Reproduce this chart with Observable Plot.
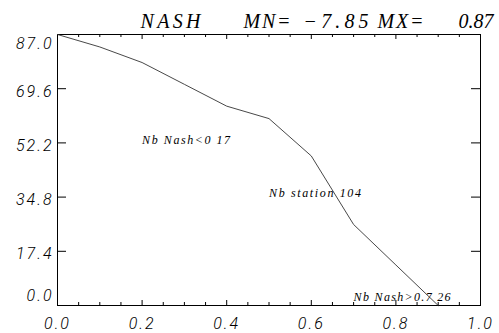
<!DOCTYPE html>
<html><head><meta charset="utf-8">
<script src="https://cdn.jsdelivr.net/npm/d3@7"></script>
<script src="https://cdn.jsdelivr.net/npm/@observablehq/plot@0.6"></script>
<style>
body{margin:0;background:#fff}
svg{display:block}
</style>
</head><body><div id="chart"></div>
<script>
// Data
const nashThresholds = [0.0, 0.1, 0.2, 0.3, 0.4, 0.5, 0.6, 0.7, 0.8, 0.9];
const stationCounts = [87, 83, 78, 71, 64, 60, 48, 26, 13, 0];
const xTickLabels = [0.0, 0.2, 0.4, 0.6, 0.8, 1.0];
const xMinorTicks = [0.05, 0.1, 0.15, 0.25, 0.3, 0.35, 0.45, 0.5, 0.55, 0.65, 0.7, 0.75, 0.85, 0.9, 0.95];
const xMajorTicks = [0.2, 0.4, 0.6, 0.8];
const yTickValues = [0.0, 17.4, 34.8, 52.2, 69.6, 87.0];
const titleParts = ["NASH", "MN=", "\u22127.85", "MX=", "0.87"];
const noteTexts = ["Nb Nash<0 17", "Nb station 104", "Nb Nash>0.7 26"];
const noteX = [0.2, 0.5, 0.7];
const noteY = [51.8, 34.8, 1.6];

const data = nashThresholds.map((x, i) => ({x, y: stationCounts[i]}));
const notes = noteTexts.map((t, i) => ({t, x: noteX[i], y: noteY[i]}));

const mL = 57, mR = 19, mT = 34, mB = 28, W = 499, H = 333;
const fw = W - mL - mR, fh = H - mT - mB;
const fmt = d3.format(".1f");
const sans = "Roboto, Liberation Sans";
const serif = "Liberation Serif";
const titleOffsets = [140, 243, 303, 377, 458];
const titleWidths = [60, 47, 65, 46, 35];
const noteWidths = [88, 92, 97];

const lab = {fontFamily: sans, fontStyle: "italic", fontWeight: 300, fontSize: 16, fill: "black"};
const marks = [
  Plot.frame({stroke: "black", strokeWidth: 1}),
  Plot.tickY(yTickValues, {y: d => d, insetRight: fw - 9, stroke: "black"}),
  Plot.tickY(yTickValues, {y: d => d, insetLeft: fw - 9, stroke: "black"}),
  Plot.tickX(xMinorTicks, {x: d => d, insetTop: fh - 3, stroke: "black"}),
  Plot.tickX(xMinorTicks, {x: d => d, insetBottom: fh - 3, stroke: "black"}),
  Plot.tickX(xMajorTicks, {x: d => d, insetTop: fh - 5, stroke: "black"}),
  Plot.tickX(xMajorTicks, {x: d => d, insetBottom: fh - 5, stroke: "black"}),
  Plot.line(data, {x: "x", y: "y", stroke: "#333", strokeWidth: 0.9}),
  Plot.text(yTickValues.filter(d => d > 0 && d < 87), {y: d => d, text: d => fmt(d), frameAnchor: "left", textAnchor: "end", dx: -4, dy: 3, ...lab}),
  Plot.text(yTickValues.filter(d => d === 87), {y: d => d, text: d => fmt(d), frameAnchor: "left", textAnchor: "end", dx: -4, dy: 9, ...lab}),
  Plot.text(yTickValues.filter(d => d === 0), {y: d => d, text: d => fmt(d), frameAnchor: "left", textAnchor: "end", dx: -4, dy: -10, ...lab}),
  Plot.text(xTickLabels, {x: d => d, text: d => fmt(d), frameAnchor: "bottom", dy: 18, lineAnchor: "middle", ...lab}),
  Plot.text(notes, {x: "x", y: "y", text: "t", textAnchor: "start", lineAnchor: "bottom", fontFamily: serif, fontStyle: "italic", fontSize: 12, fill: "black"}),
  ...titleParts.map((t, i) => Plot.text([t], {text: d => d, frameAnchor: "top-left", textAnchor: "start", lineAnchor: "bottom", dx: titleOffsets[i] - mL, dy: -7, fontFamily: serif, fontStyle: "italic", fontSize: 20, fill: "black"}))
];

const chart = Plot.plot({
  width: W, height: H,
  marginLeft: mL, marginRight: mR, marginTop: mT, marginBottom: mB,
  x: {domain: [0, 1], axis: null},
  y: {domain: [0, 87], axis: null},
  style: {background: "white", color: "black"},
  marks
});
// tick labels: slight letter spacing
d3.select(chart).selectAll("g[font-size='16']").style("letter-spacing", "2px");
// title and notes: fit the reference widths
d3.select(chart).selectAll("text").each(function() {
  const s = this.textContent;
  let w = null;
  const ti = titleParts.indexOf(s);
  if (ti >= 0) w = titleWidths[ti];
  const ni = noteTexts.indexOf(s);
  if (ni >= 0) w = noteWidths[ni];
  if (w != null) {
    this.setAttribute("textLength", w);
    this.setAttribute("lengthAdjust", "spacing");
  }
});
document.getElementById("chart").appendChild(chart);
</script>
</body></html>
